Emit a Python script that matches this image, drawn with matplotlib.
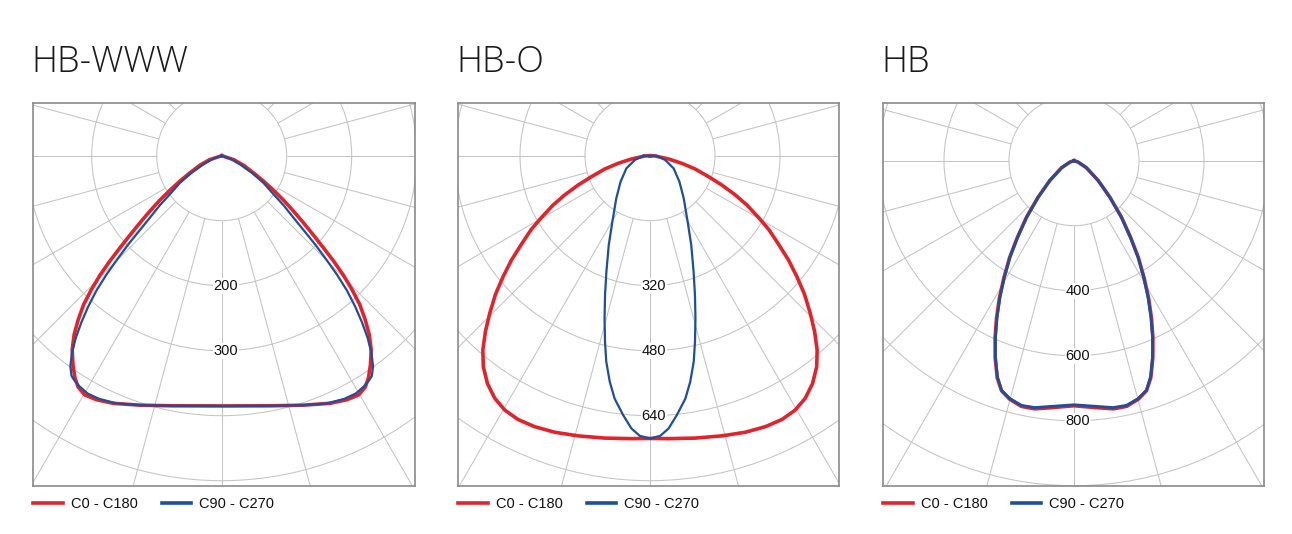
import numpy as np
import matplotlib
matplotlib.use("Agg")
import matplotlib.pyplot as plt
from matplotlib.patches import Circle
from matplotlib.lines import Line2D

W, H = 1292, 534

titles = ["HB-WWW", "HB-O", "HB"]
series_names = ["C0 - C180", "C90 - C270"]
ring_steps = [100, 160, 200]
ring_labels = [[200, 300], [320, 480, 640], [400, 600, 800]]

# half profiles: angle from nadir (deg) and luminous intensity (cd), mirrored to the other side
p1_c0_angles = [0, 11.0, 18.2, 23.7, 27.2, 29.8, 31.8, 33.4, 35.4, 37.6, 39.5, 41.2, 42.8, 44.2, 45.5,
                46.7, 47.8, 49.1, 50.6, 52.3, 54.2, 56.3, 58.6, 61.6, 66.3, 71.6, 90]
p1_c0_cd     = [385, 392, 404, 416, 422, 424, 419, 410, 395, 377, 357, 335, 313, 288, 263,
                237, 212, 187, 163, 140, 118, 96, 76, 56, 37, 20, 0]
p1_c90_angles = [0, 11.0, 18.2, 23.0, 26.8, 29.4, 31.6, 33.4, 34.3, 35.7, 37.2, 38.7, 40.1, 41.5, 42.9,
                 44.1, 45.2, 46.4, 47.6, 49.1, 51.3, 53.5, 56.9, 60.3, 64.3, 70.9, 90]
p1_c90_cd     = [385, 392, 404, 414, 419, 420, 417, 413, 410, 399, 381, 359, 335, 310, 283,
                 255, 227, 200, 173, 147, 122, 98, 77, 54, 32, 14, 0]

p2_c0_angles = [0, 3.8, 9.1, 14.4, 19.0, 23.1, 26.6, 29.7, 32.6, 35.5, 38.3, 40.7, 43.1, 45.5, 48.1,
                50.5, 53.0, 55.4, 58.1, 60.3, 63.0, 65.3, 67.8, 70.3, 73.6, 76.5, 79.9, 86.4, 90]
p2_c0_cd     = [696, 698, 704, 712, 720, 725, 726, 721, 709, 689, 662, 631, 593, 553, 511,
                469, 427, 385, 345, 308, 268, 231, 191, 153, 116, 81, 47, 13, 0]
p2_c90_angles = [0, 2.1, 3.9, 5.9, 8.3, 10.1, 12.0, 13.6, 15.6, 17.9, 20.6, 24.8, 29.7, 38.3, 48.4,
                 61.8, 74.2, 87.3, 90]
p2_c90_cd     = [696, 690, 673, 642, 604, 565, 518, 471, 416, 360, 305, 242, 187, 134, 97,
                 66, 39, 17, 16]

p3_c0_angles = [0, 5.2, 9.0, 12.1, 15.1, 17.5, 19.5, 21.8, 24.0, 26.2, 28.5, 30.9, 33.6, 36.4, 40.0, 44.5, 50.7, 60.4, 71.6, 90]
p3_c0_cd     = [754, 763, 773, 773, 760, 742, 708, 653, 597, 540, 481, 420, 358, 294, 228, 158, 96, 44, 13, 0]
p3_c90_angles = [0, 5.2, 9.0, 12.1, 15.1, 17.5, 19.5, 21.8, 24.0, 26.2, 28.5, 30.9, 33.6, 36.4, 40.0, 44.5, 50.7, 60.4, 71.6, 90]
p3_c90_cd     = [751, 759, 769, 770, 758, 741, 706, 651, 594, 536, 477, 417, 356, 292, 226, 157, 96, 44, 13, 0]

profiles = [
    ((p1_c0_angles, p1_c0_cd), (p1_c90_angles, p1_c90_cd)),
    ((p2_c0_angles, p2_c0_cd), (p2_c90_angles, p2_c90_cd)),
    ((p3_c0_angles, p3_c0_cd), (p3_c90_angles, p3_c90_cd)),
]

# layout (pixels): box x0, x1, y0, y1 and pole position
boxes = [(32.7, 415.0, 103.3, 485.7, 221.7, 155.7),
         (457.7, 839.3, 103.3, 485.7, 650.0, 155.7),
         (882.7, 1264.3, 103.3, 485.7, 1074.0, 160.7)]
PX_PER_RING = 65.0

RED = "#E3232B"
BLUE = "#1D4F9B"
GRID = "#C4C4C4"
FRAME = "#8A8A8A"
blue_lw = [1.6, 1.6, 2.0]

fig = plt.figure(figsize=(W / 100, H / 100), dpi=100)
fig.patch.set_facecolor("white")


def polar_to_xy(angles, cd):
    a = np.asarray(angles, float)
    r = np.asarray(cd, float)
    th = np.concatenate([-a[::-1], a[1:]])
    rr = np.concatenate([r[::-1], r[1:]])
    th = np.append(th, th[0])
    rr = np.append(rr, rr[0])
    t = np.radians(th)
    return rr * np.sin(t), -rr * np.cos(t)


for i in range(3):
    x0, x1, y0, y1, cx, cy = boxes[i]
    step = ring_steps[i]
    u = step / PX_PER_RING
    ax = fig.add_axes([x0 / W, 1 - y1 / H, (x1 - x0) / W, (y1 - y0) / H])
    ax.set_xlim(-(cx - x0) * u, (x1 - cx) * u)
    ax.set_ylim(-(y1 - cy) * u, (cy - y0) * u)
    ax.set_xticks([])
    ax.set_yticks([])
    for s in ax.spines.values():
        s.set_color(FRAME)
        s.set_linewidth(1.2)
        s.set_zorder(10)

    for k in range(1, 8):
        ax.add_patch(Circle((0, 0), k * step, fill=False, ec=GRID, lw=0.75, zorder=1))
    for a in range(0, 360, 15):
        t = np.radians(a)
        ax.plot([step * np.sin(t), 12 * step * np.sin(t)],
                [-step * np.cos(t), -12 * step * np.cos(t)],
                color=GRID, lw=0.75, zorder=1, solid_capstyle="butt")

    for v in ring_labels[i]:
        ax.text(4 * u, -v, str(v), ha="center", va="center", fontsize=10.5,
                family="Liberation Sans", color="#111111", zorder=3,
                bbox=dict(fc="white", ec="none", pad=0.6))

    (a0, r0), (a90, r90) = profiles[i]
    xr, yr = polar_to_xy(a0, r0)
    ax.plot(xr, yr, color=RED, lw=2.6, zorder=4, solid_joinstyle="round")
    xb, yb = polar_to_xy(a90, r90)
    ax.plot(xb, yb, color=BLUE, lw=blue_lw[i], zorder=5, solid_joinstyle="round")

    handles = [Line2D([], [], color=RED, lw=2.6), Line2D([], [], color=BLUE, lw=2.6)]
    leg = ax.legend(handles, series_names, loc="center left",
                    bbox_to_anchor=(0.0, -(504 - y1) / (y1 - y0)), ncol=2,
                    frameon=False, borderpad=0, borderaxespad=0,
                    handlelength=2.05, handletextpad=0.55, columnspacing=1.65,
                    prop=dict(family="Liberation Sans", size=10.5))
    for txt in leg.get_texts():
        txt.set_color("#111111")

    fig.text((x0 - 1) / W, 1 - 71.7 / H, titles[i], fontsize=26,
             family="Open Sans", weight="light", color="#1a1a1a", va="baseline", ha="left")

fig.savefig("out.png", dpi=100, facecolor="white")
